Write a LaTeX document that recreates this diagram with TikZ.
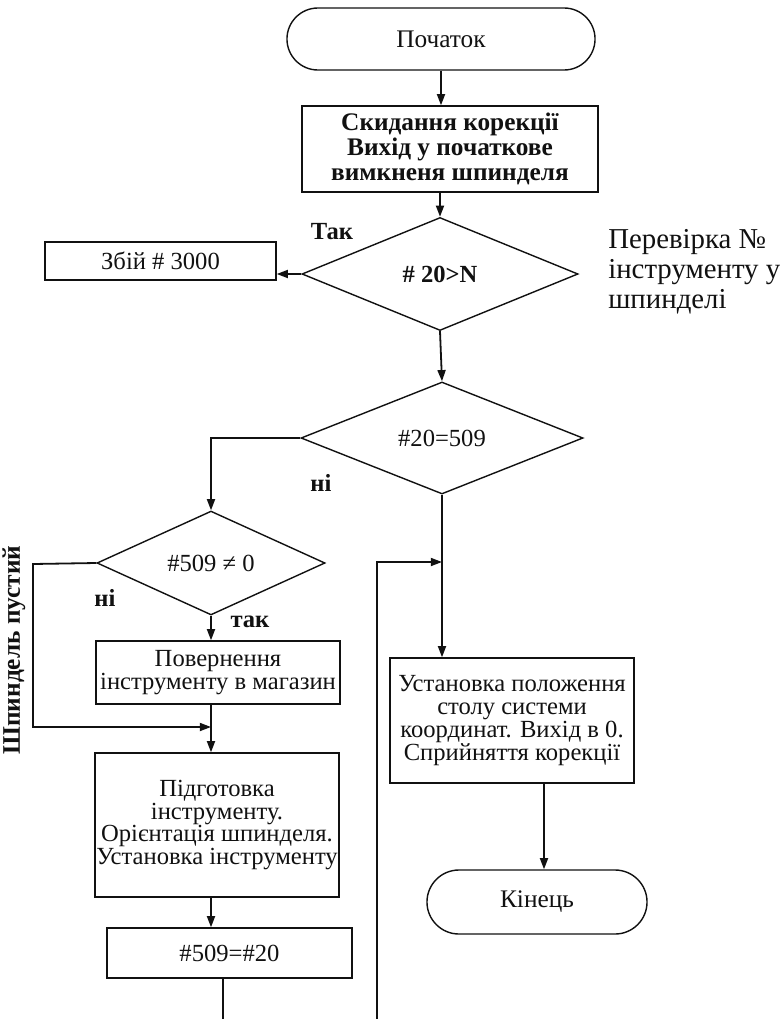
\documentclass[tikz,border=0pt]{standalone}
\usepackage{fontspec}
\setmainfont{Liberation Serif}
\usepackage{tikz}
\usepackage{xcolor}
\usetikzlibrary{arrows.meta,positioning,shapes.misc,shapes.geometric}
\definecolor{ink}{HTML}{111111}
\definecolor{paper}{HTML}{FFFFFF}
\tikzset{
  terminal/.style={
    rounded rectangle,
    fill=paper,
    draw=ink,
    line width=0.035cm,
    inner sep=0cm,
    font=\fontsize{18}{16}\selectfont,
    text=ink
  },
  procbox/.style={
    rectangle,
    fill=paper,
    draw=ink,
    line width=0.035cm,
    inner sep=0cm,
    align=center,
    font=\fontsize{17.5}{16.3}\selectfont,
    text=ink
  },
  decision/.style={
    diamond,
    fill=paper,
    draw=ink,
    line width=0.035cm,
    inner sep=0cm,
    font=\fontsize{17.5}{16}\selectfont,
    text=ink
  },
  flowarrow/.style={-{Triangle[length=0.28cm,width=0.2cm]}, line width=0.045cm, draw=ink},
  flowline/.style={line width=0.045cm, draw=ink},
  branchtag/.style={font=\fontsize{17.5}{16}\selectfont\bfseries, text=ink, inner sep=0cm},
  sidenote/.style={font=\fontsize{20.5}{21.5}\selectfont, text=ink, align=left, inner sep=0cm}
}

\begin{document}
\begin{tikzpicture}[x=0.025cm,y=-0.025cm]
      \useasboundingbox[fill=paper] (0,0) rectangle (780,1019);
      % main column
      \node[terminal,minimum width=7.7cm,minimum height=1.55cm] (start) at (441,39) {Початок};
      \node[procbox,minimum width=7.4cm,minimum height=2.15cm,font=\fontsize{18}{17.5}\selectfont\bfseries] (reset) at (450,149) {Скидання корекції\\Вихід у початкове\\вимкненя шпинделя};
      \node[decision,minimum width=6.9cm,minimum height=2.825cm,font=\fontsize{17.5}{16}\selectfont\bfseries] (check) at (440,274) {\# 20>N};
      \node[procbox,minimum width=5.775cm,minimum height=0.95cm] (fault) at (160.5,261) {Збій \# 3000};
      \node[decision,minimum width=7.05cm,minimum height=2.8cm] (same) at (442,438) {\#20=509};
      \node[decision,minimum width=5.7cm,minimum height=2.2cm] (loaded) at (211,563) {\#509 ≠ 0};
      \node[procbox,minimum width=6.1cm,minimum height=1.575cm] (back) at (218,672.5) {Повернення\\інструменту в магазин};
      \node[procbox,minimum width=6.1cm,minimum height=3.6cm] (prep) at (217,825) {Підготовка\\інструменту.\\Орієнтація шпинделя.\\Установка інструменту};
      \node[procbox,minimum width=6.125cm,minimum height=1.25cm] (store) at (229.5,953) {\#509=\#20};
      \node[procbox,minimum width=6.1cm,minimum height=3.125cm] (table) at (512,720.5) {Установка положення\\столу системи\\координат. Вихід в 0.\\Сприйняття корекції};
      \node[terminal,minimum width=5.5cm,minimum height=1.6cm] (stop) at (537,902) {Кінець};
      % labels
      \node[branchtag] (yes1) at (332,232) {Так};
      \node[branchtag] (no2) at (321,483) {ні};
      \node[branchtag] (no3) at (105,598) {ні};
      \node[branchtag] (yes3) at (250,622) {так};
      \node[sidenote,anchor=north west] (note) at (608,229) {Перевірка №\\інструменту у\\шпинделі};
      \node[font=\fontsize{18}{18}\selectfont\bfseries,text=ink,rotate=90,inner sep=0cm] (empty) at (14,650) {Шпиндель пустий};
      % free ends and joins
      \coordinate (loopin) at (377,1019);
      \coordinate (joinr) at (442,562);
      \coordinate (joinl) at (211,727);
      \coordinate (bend) at (33,564);
      \coordinate (out) at (223,1019);
      \coordinate (endcol) at (544,0);
      % connectors
      \draw[flowarrow] (start.south) -- (start.south |- reset.north);
      \draw[flowarrow] (check.north |- reset.south) -- (check.north);
      \draw[flowarrow] (check.west) -- (check.west -| fault.east);
      \draw[flowarrow] (check.south) -- (same.north);
      \draw[flowarrow] (same.west) -| (loaded.north);
      \draw[flowarrow] (same.south) -- (same.south |- table.north);
      \draw[flowarrow] (loopin) |- (joinr);
      \draw[flowarrow] (loaded.south) -- (loaded.south |- back.north);
      \draw[flowarrow] (loaded.west) -- (bend) |- (joinl);
      \draw[flowarrow] (loaded.south |- back.south) -- (loaded.south |- prep.north);
      \draw[flowarrow] (loaded.south |- prep.south) -- (loaded.south |- store.north);
      \draw[flowline] (store.south -| out) -- (out);
      \draw[flowarrow] (table.south -| endcol) -- (stop.north -| endcol);
    \end{tikzpicture}
\end{document}
